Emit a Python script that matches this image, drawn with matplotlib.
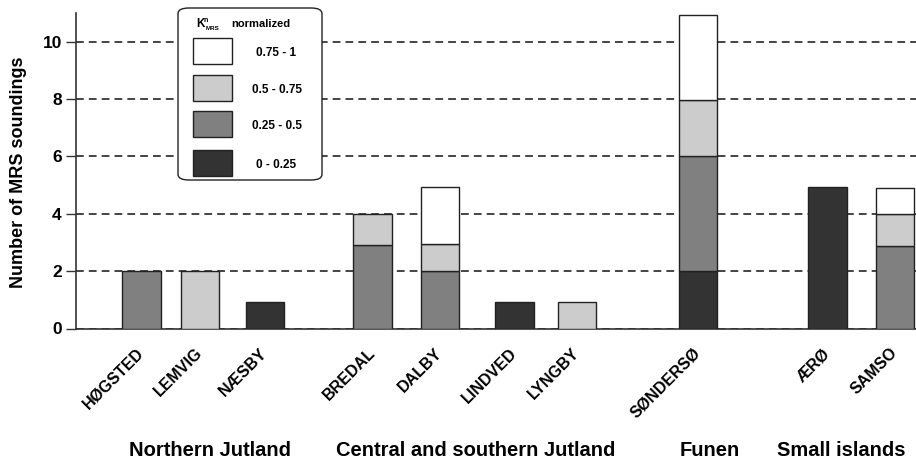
import matplotlib
matplotlib.use("Agg")
import matplotlib.pyplot as plt
from matplotlib.patches import Rectangle, FancyBboxPatch
import numpy as np

# ---- data ----
sites = ["HØGSTED", "LEMVIG", "NÆSBY", "BREDAL", "DALBY", "LINDVED",
         "LYNGBY", "SØNDERSØ", "ÆRØ", "SAMSO"]
k_0_025 = [0, 0, 0.93, 0, 0, 0.93, 0, 2.0, 4.93, 0]
k_025_05 = [2.0, 0, 0, 2.9, 2.0, 0, 0, 4.0, 0, 2.88]
k_05_075 = [0, 2.0, 0, 1.08, 0.93, 0, 0.93, 1.97, 0, 1.1]
k_075_1 = [0, 0, 0, 0, 2.0, 0, 0, 2.96, 0, 0.93]
class_labels = ["0 - 0.25", "0.25 - 0.5", "0.5 - 0.75", "0.75 - 1"]
regions = ["Northern Jutland", "Central and southern Jutland", "Funen", "Small islands"]
yticks = [0, 2, 4, 6, 8, 10]

# ---- layout (pixel-based) ----
W, H = 916, 462
xpos = [65.5, 124, 189, 296.5, 364, 438.5, 501, 622, 751.5, 819]
bar_w = 38.5
region_x = [134, 400, 634, 765]
colors = ["#333333", "#808080", "#cccccc", "#ffffff"]
edge = "#222222"
FONT = "Liberation Sans"

plt.rcParams['font.family'] = [FONT, 'DejaVu Sans']

fig = plt.figure(figsize=(W / 100, H / 100), dpi=100)
ax_left, ax_right, ax_top, ax_bot = 76, 916, 13, 328.5
ax = fig.add_axes([ax_left / W, 1 - ax_bot / H, (ax_right - ax_left) / W, (ax_bot - ax_top) / H])

series = [k_0_025, k_025_05, k_05_075, k_075_1]
bottom = np.zeros(len(sites))
for vals, c in zip(series, colors):
    v = np.array(vals, dtype=float)
    mask = v > 0
    ax.bar(np.array(xpos)[mask], v[mask], width=bar_w, bottom=bottom[mask],
           color=c, edgecolor=edge, linewidth=1.0, zorder=3)
    bottom += v

ax.set_xlim(0, ax_right - ax_left)
ax.set_ylim(0, 11.0)
ax.set_yticks(yticks)
ax.set_yticklabels([str(t) for t in yticks], fontsize=12.5, fontweight='bold')
ax.tick_params(axis='y', length=7.2, width=1.0, color='#333333', pad=3)
ax.set_axisbelow(True)
ax.yaxis.grid(True, color='#444444', linewidth=1.4, linestyle=(0, (4.0, 2.6)))
ax.xaxis.grid(False)
for s in ['top', 'right']:
    ax.spines[s].set_visible(False)
for s in ['left', 'bottom']:
    ax.spines[s].set_color('#333333')
    ax.spines[s].set_linewidth(1.2)

ax.set_xticks(xpos)
ax.set_xticklabels(sites, rotation=45, ha='right', va='center',
                   rotation_mode='anchor', fontsize=11.5, fontweight='bold')
ax.tick_params(axis='x', length=0, pad=16)

# y label
fig.text(19 / W, 1 - 172 / H, "Number of MRS soundings", rotation=90,
         ha='center', va='center', fontsize=13, fontweight='bold')

# region labels
trans = ax.get_xaxis_transform()
for rx, name in zip(region_x, regions):
    ax.text(rx, -(450 - ax_bot) / (ax_bot - ax_top), name, transform=trans,
            ha='center', va='center', fontsize=14.5, fontweight='bold', clip_on=False)

# ---- legend (manual) ----
def fx(p):
    return p / W

def fy(p):
    return 1 - p / H

box = FancyBboxPatch((fx(178), fy(180)), fx(322) - fx(178), fy(8) - fy(180),
                     boxstyle="round,pad=0,rounding_size=0.012",
                     transform=fig.transFigure, facecolor='white',
                     edgecolor='#222222', linewidth=1.0, zorder=10)
fig.add_artist(box)
fig.text(fx(196), fy(27), "K", fontsize=8.5, fontweight='bold', ha='left', va='baseline', zorder=11)
fig.text(fx(203.5), fy(21.5), "n", fontsize=5, fontweight='bold', ha='left', va='baseline', zorder=11)
fig.text(fx(206), fy(30), "MRS", fontsize=4.5, fontweight='bold', ha='left', va='baseline', zorder=11)
fig.text(fx(231.5), fy(27), "normalized", fontsize=8, fontweight='bold', ha='left', va='baseline', zorder=11)

row_centers = [163, 124, 88, 51]
for lab, c, yc in zip(class_labels, colors, row_centers):
    r = Rectangle((fx(193), fy(yc + 13)), fx(232) - fx(193), fy(yc - 13) - fy(yc + 13),
                  transform=fig.transFigure, facecolor=c, edgecolor=edge,
                  linewidth=1.0, zorder=11)
    fig.add_artist(r)
    fig.text(fx(276.5), fy(yc + 2), lab, fontsize=8.5, fontweight='bold',
             ha='center', va='center', zorder=11)

fig.savefig("out.png", dpi=100)
